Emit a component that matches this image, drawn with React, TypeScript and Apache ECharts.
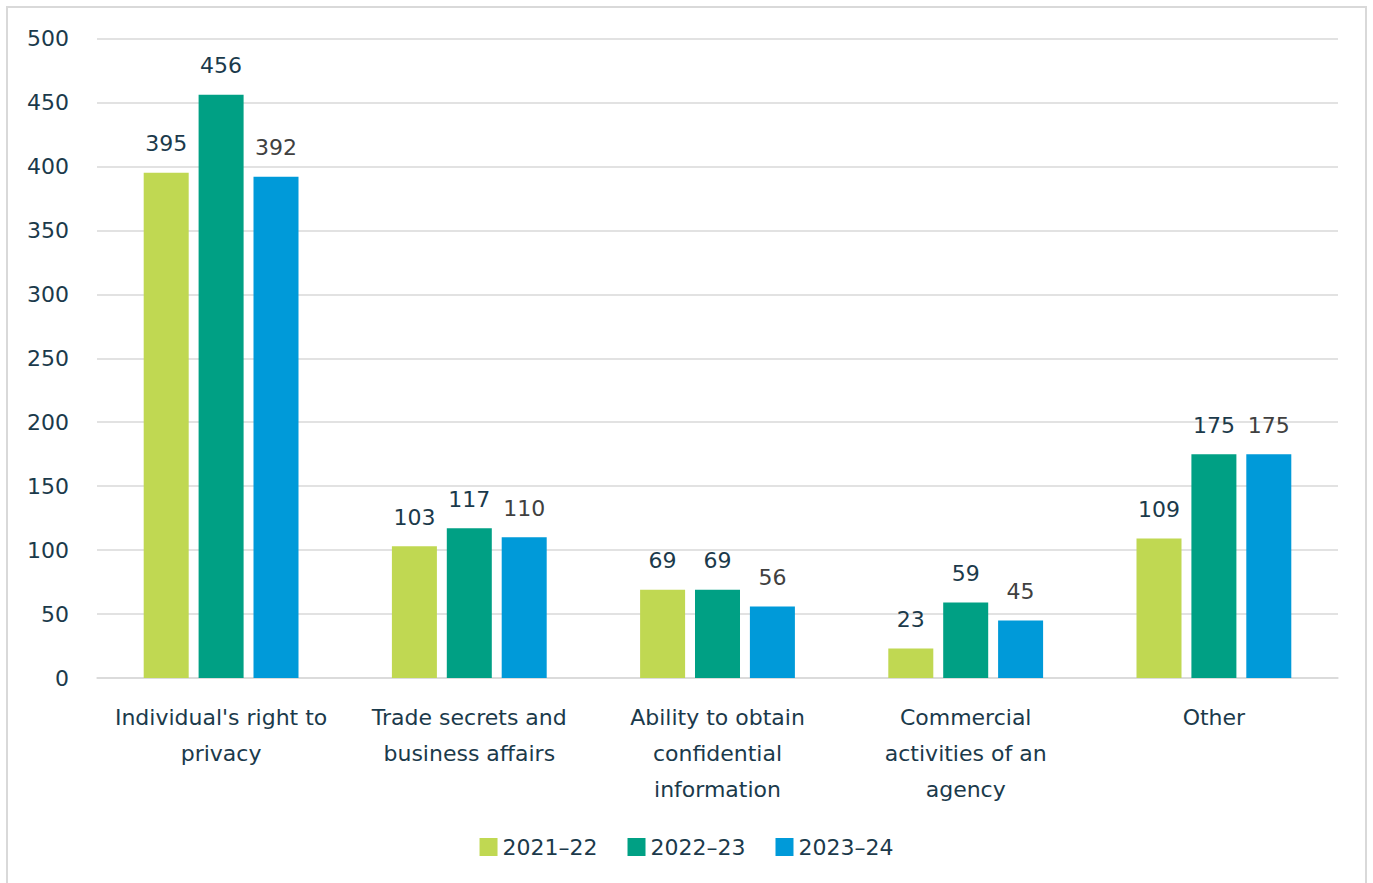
import React, { useEffect, useRef } from "react";
import * as echarts from "echarts";

const categories = [
  "Individual's right to\nprivacy",
  "Trade secrets and\nbusiness affairs",
  "Ability to obtain\nconfidential\ninformation",
  "Commercial\nactivities of an\nagency",
  "Other",
];
const seriesNames = ["2021–22", "2022–23", "2023–24"];
const values2122 = [395, 103, 69, 23, 109];
const values2223 = [456, 117, 69, 59, 175];
const values2324 = [392, 110, 56, 45, 175];
const colors = ["#c0d852", "#00a084", "#009ad9"];
const labelColors = ["#1b3a4b", "#1b3a4b", "#404040"];

const FONT = "'DejaVu Sans', sans-serif";

export default function App() {
  const ref = useRef<HTMLDivElement>(null);
  useEffect(() => {
    if (!ref.current) return;
    const chart = echarts.init(ref.current, undefined, { renderer: "svg" });
    const data = [values2122, values2223, values2324];
    chart.setOption({
      animation: false,
      backgroundColor: "#ffffff",
      textStyle: { fontFamily: FONT },
      graphic: [
        {
          type: "rect",
          silent: true,
          shape: { x: 1, y: 1, width: 1359, height: 940 },
          style: { fill: "none", stroke: "#d9d9d9", lineWidth: 2 },
        },
      ],
      grid: { left: 91, top: 32.5, width: 1241, height: 639.5, containLabel: false },
      legend: {
        data: seriesNames,
        top: 825,
        left: "center",
        itemWidth: 18,
        itemHeight: 18,
        itemGap: 30,
        icon: "rect",
        textStyle: { fontFamily: FONT, fontSize: 22, color: "#1b3a4b" },
      },
      xAxis: {
        type: "category",
        data: categories,
        axisLine: { lineStyle: { color: "#d9d9d9", width: 1.5 } },
        axisTick: { show: false },
        axisLabel: {
          fontFamily: FONT,
          fontSize: 22,
          color: "#1b3a4b",
          lineHeight: 36,
          margin: 21,
          interval: 0,
        },
      },
      yAxis: {
        type: "value",
        min: 0,
        max: 500,
        interval: 50,
        axisLine: { show: false },
        axisTick: { show: false },
        splitLine: { lineStyle: { color: "#d9d9d9", width: 1.5 } },
        axisLabel: { fontFamily: FONT, fontSize: 22, color: "#1b3a4b", margin: 28 },
      },
      series: seriesNames.map((name, i) => ({
        name,
        type: "bar",
        data: data[i],
        barWidth: 45,
        barGap: "22%",
        itemStyle: { color: colors[i] },
        label: {
          show: true,
          position: "top",
          distance: 18,
          fontFamily: FONT,
          fontSize: 22,
          color: labelColors[i],
        },
      })),
    });
    return () => chart.dispose();
  }, []);
  return (
    <div
      ref={ref}
      style={{ position: "fixed", left: 6, top: 6, width: 1361, height: 877 }}
    />
  );
}
